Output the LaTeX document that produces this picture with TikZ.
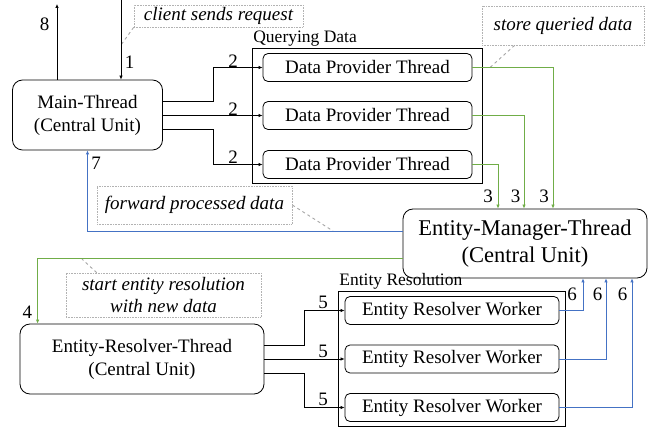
\documentclass[tikz,border=0pt]{standalone}
\usepackage{fontspec}
\setmainfont{Liberation Serif}
\usetikzlibrary{arrows.meta,fit}

\definecolor{flowgreen}{RGB}{112,173,71}
\definecolor{flowblue}{RGB}{68,114,196}

\tikzset{
  unit/.style={draw, rounded corners=10pt, line width=0.8pt, align=center, inner sep=0pt, font=\fontsize{19}{23}\selectfont},
  thread/.style={draw, rounded corners=5pt, line width=0.8pt, inner sep=0pt, minimum width=209pt, minimum height=28pt, font=\fontsize{19}{23}\selectfont},
  group/.style={draw, line width=0.9pt, inner sep=0pt},
  grouplabel/.style={anchor=south west, inner sep=1pt, font=\fontsize{17.5}{20}\selectfont},
  note/.style={draw=gray!60, densely dotted, line width=0.6pt, align=center, inner sep=0pt, font=\fontsize{19}{22}\selectfont\itshape},
  num/.style={inner sep=0pt, font=\fontsize{19}{22}\selectfont},
  arr/.style={-{Latex[length=4pt,width=3.5pt]}, line width=0.7pt},
  garr/.style={arr, flowgreen, line width=0.9pt},
  barr/.style={arr, flowblue, line width=0.9pt},
  lead/.style={gray!70, dashed, line width=0.9pt},
}

\begin{document}
\begin{tikzpicture}[x=1pt, y=-1pt]
\useasboundingbox (0,0) rectangle (654,430);

% Central units
\node[unit, minimum width=150pt, minimum height=70pt] (main) at (87.5,115) {Main-Thread\\(Central Unit)};
\node[unit, minimum width=244pt, minimum height=69pt, font=\fontsize{22.5}{27}\selectfont] (em) at (525,243.5) {Entity-Manager-Thread\\(Central Unit)};
\node[unit, minimum width=244pt, minimum height=70pt] (ert) at (142,359) {Entity-Resolver-Thread\\(Central Unit)};

% Querying data
\node[thread] (dp1) at (367.5,67.5) {Data Provider Thread};
\node[thread] (dp2) at (367.5,115.5) {Data Provider Thread};
\node[thread] (dp3) at (367.5,164.5) {Data Provider Thread};
\node[group, fit=(dp1)(dp3), inner xsep=10pt, inner ysep=5pt] (query) {};
\node[grouplabel] (querylabel) at (query.north west) {Querying Data};

% Entity resolution
\node[thread, minimum width=214pt] (erw1) at (452,310.5) {Entity Resolver Worker};
\node[thread, minimum width=214pt] (erw2) at (452,359) {Entity Resolver Worker};
\node[thread, minimum width=214pt] (erw3) at (452,407.5) {Entity Resolver Worker};
\node[group, fit=(erw1)(erw3), inner xsep=6pt, inner ysep=5pt] (resolve) {};
\node[grouplabel] (resolvelabel) at (resolve.north west) {Entity Resolution};

% Notes
\node[note, minimum width=169pt, minimum height=22pt] (request) at (218.5,16) {client sends request};
\node[note, minimum width=162pt, minimum height=39pt] (store) at (563,25.5) {store queried data};
\node[note, minimum width=195pt, minimum height=38pt] (forward) at (194.5,205) {forward processed data};
\node[note, minimum width=195pt, minimum height=44pt] (start) at (163.5,295) {start entity resolution\\with new data};

% Note leaders
\coordinate (reqpin) at (121,45);
\coordinate (storepin) at (490,67.5);
\coordinate (forwardpin) at (333,231);
\coordinate (startpin) at (82,259);
\draw[lead] (request.south west) -- (reqpin);
\draw[lead] ([xshift=33pt]store.south west) -- (storepin);
\draw[lead] (forward.east) -- (forwardpin);
\draw[lead] ([xshift=31pt]start.north west) -- (startpin);

% Request in and result out
\coordinate (client) at (121,0);
\coordinate (result) at (57,4);
\draw[arr] (client) -- (client |- main.north);
\draw[arr] (main.north -| result) -- (result);

% Main-Thread to providers
\draw[arr] ([yshift=14pt]main.east) -- ++(50,0) |- (dp1.west);
\draw[arr] (main.east |- dp2.west) -- (dp2.west);
\draw[arr] ([yshift=-14pt]main.east) -- ++(50,0) |- (dp3.west);

% Providers to Entity-Manager
\draw[garr] (dp1.east) -| ([xshift=28pt]em.north);
\draw[garr] (dp2.east) -| ([xshift=-1pt]em.north);
\draw[garr] (dp3.east) -| ([xshift=-27pt]em.north);

% Entity-Manager back to Main and on to Resolver
\draw[barr] ([yshift=12.5pt]em.west) -| (main.south);
\draw[garr] ([yshift=-14.5pt]em.west) -| ([xshift=18pt]ert.north west);

% Resolver to workers
\draw[arr] ([yshift=14pt]ert.east) -- ++(40,0) |- (erw1.west);
\draw[arr] (ert.east) -- (erw2.west);
\draw[arr] ([yshift=-14pt]ert.east) -- ++(40,0) |- (erw3.west);

% Workers to Entity-Manager
\draw[barr] (erw1.east) -| ([xshift=58pt]em.south);
\draw[barr] (erw2.east) -| ([xshift=81pt]em.south);
\draw[barr] (erw3.east) -| ([xshift=107pt]em.south);

% Step numbers
\node[num] (n8) at (44.5,24.5) {8};
\node[num] (n1) at (129.5,62.5) {1};
\node[num] (n2a) at (233,61) {2};
\node[num] (n2b) at (233,109) {2};
\node[num] (n2c) at (233,157.5) {2};
\node[num] (n3a) at (488,196) {3};
\node[num] (n3b) at (515.5,196) {3};
\node[num] (n3c) at (544,196) {3};
\node[num] (n7) at (96,163.5) {7};
\node[num] (n4) at (27.5,312) {4};
\node[num] (n5a) at (323,302.5) {5};
\node[num] (n5b) at (323,351) {5};
\node[num] (n5c) at (323,399.5) {5};
\node[num] (n6a) at (572,294.5) {6};
\node[num] (n6b) at (597.5,294.5) {6};
\node[num] (n6c) at (622.5,294.5) {6};

\end{tikzpicture}
\end{document}
